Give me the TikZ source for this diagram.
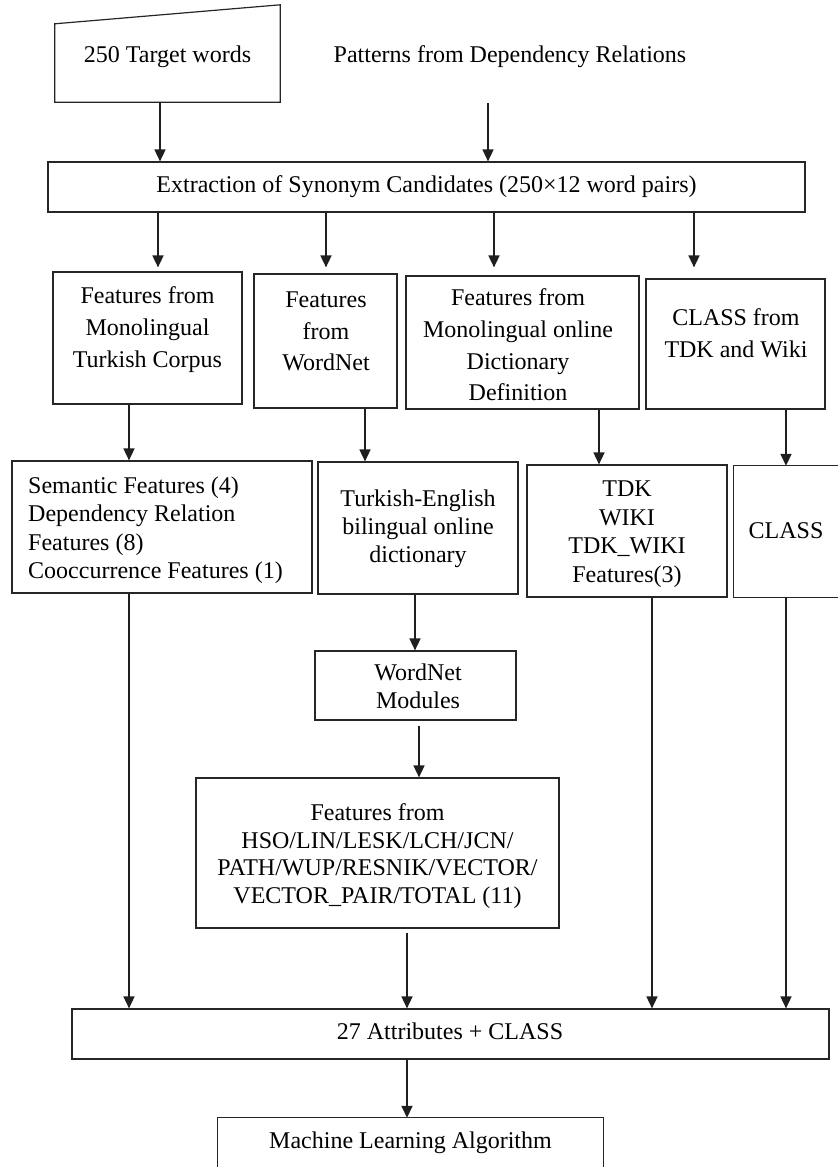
\documentclass[tikz,border=0pt]{standalone}
\usepackage{fontspec}
\setmainfont{Liberation Serif}
\usetikzlibrary{arrows.meta}
\begin{document}
\begin{tikzpicture}[x=1pt,y=-1pt,
  boxline/.style={draw=black!85, line width=1.2pt},
  box/.style={boxline, inner sep=0pt, align=center, font=\fontsize{24}{28}\selectfont},
  plain/.style={inner sep=0pt, align=center, font=\fontsize{24}{28}\selectfont},
  txt/.style={inner sep=0pt, align=center, font=\fontsize{24}{#1}\selectfont},
  arr/.style={draw=black!88, line width=1.6pt, -{Triangle[width=11pt,length=12pt]}}]
\useasboundingbox (0,0) rectangle (838,1167);

% x positions of connectors
\coordinate (c160) at (160,0);
\coordinate (c158) at (158,0);
\coordinate (c326) at (326,0);
\coordinate (c494) at (494,0);
\coordinate (c694) at (694,0);
\coordinate (c129) at (129,0);
\coordinate (c365) at (365,0);
\coordinate (c599) at (599,0);
\coordinate (c786) at (786,0);
\coordinate (c415) at (415,0);
\coordinate (c419) at (419,0);
\coordinate (c407) at (407,0);
\coordinate (c652) at (652,0);

% top row
\node[plain, minimum width=225pt, minimum height=97pt] (tw) at (167.5,53.5) {};
\draw[boxline] (tw.south west) -- (tw.south east) -- (tw.north east) -- ([yshift=-19pt]tw.north west) -- cycle;
\node[plain] (twt) at (167.5,57) {250 Target words};
\node[plain] (pat) at (510,57) {Patterns from Dependency Relations};
\coordinate (patb) at (488,103);

\node[box, minimum width=757pt, minimum height=50pt] (ext) at (426.5,187) {Extraction of Synonym Candidates (250×12 word pairs)};

% second row
\node[box, minimum width=189pt, minimum height=132pt] (A) at (147.5,338) {};
\node[txt=31.7] (At) at (147.5,329.5) {Features from\\Monolingual\\Turkish Corpus};
\node[box, minimum width=143pt, minimum height=134pt] (B) at (325.5,341) {};
\node[txt=31.7] (Bt) at (326,331.5) {Features\\from\\WordNet};
\node[box, minimum width=233pt, minimum height=133pt] (C) at (522.5,342.5) {};
\node[txt=31.7] (Ct) at (518,345) {Features from\\Monolingual online\\Dictionary\\Definition};
\node[box, minimum width=179pt, minimum height=130pt] (D) at (735.5,344) {};
\node[txt=32] (Dt) at (736,333.5) {CLASS from\\TDK and Wiki};

% third row
\node[box, minimum width=300pt, minimum height=132pt] (E) at (162,527) {};
\node[txt=28.5, align=left, anchor=west] (Et) at (28,530) {Semantic Features (4)\\Dependency Relation\\Features (8)\\Cooccurrence Features (1)};
\node[box, minimum width=200pt, minimum height=132pt] (F) at (418,528) {};
\node[txt=28] (Ft) at (418,529) {Turkish-English\\bilingual online\\dictionary};
\node[box, minimum width=200pt, minimum height=132pt] (G) at (627,531) {};
\node[txt=28.5] (Gt) at (627,534) {TDK\\WIKI\\TDK\_WIKI\\Features(3)};
\node[plain, minimum width=104pt, minimum height=131pt] (H) at (786,531.5) {};
\draw[boxline] (H.north east) -- (H.north west) -- (H.south west) -- (H.south east);
\node[plain] (Ht) at (786,531) {CLASS};

% middle column
\node[box, minimum width=201pt, minimum height=69pt] (WM) at (415.5,685.5) {};
\node[txt=27.7] (WMt) at (418,686) {WordNet\\Modules};
\node[box, minimum width=363pt, minimum height=150pt] (HSO) at (377.5,853) {};
\node[txt=27.6] (HSOt) at (377.5,856) {Features from\\HSO/LIN/LESK/LCH/JCN/\\PATH/WUP/RESNIK/VECTOR/\\VECTOR\_PAIR/TOTAL (11)};

% bottom
\node[box, minimum width=757pt, minimum height=50pt] (att) at (450.5,1034) {};
\node[plain] (attt) at (450,1031) {27 Attributes + CLASS};
\node[plain, minimum width=385pt, minimum height=49pt] (ml) at (410.5,1142.5) {Machine Learning Algorithm};
\draw[boxline] (ml.south west) -- (ml.north west) -- (ml.north east) -- (ml.south east);

% connectors
\draw[arr] (tw.south -| c160) -- (ext.north -| c160);
\draw[arr] (patb) -- (ext.north -| patb);
\draw[arr, shorten >=4pt] (ext.south -| c158) -- (A.north -| c158);
\draw[arr, shorten >=6pt] (ext.south -| c326) -- (B.north -| c326);
\draw[arr, shorten >=8pt] (ext.south -| c494) -- (C.north -| c494);
\draw[arr, shorten >=11pt] (ext.south -| c694) -- (D.north -| c694);
\draw[arr] (A.south -| c129) -- (E.north -| c129);
\draw[arr] (B.south -| c365) -- (F.north -| c365);
\draw[arr] (C.south -| c599) -- (G.north -| c599);
\draw[arr] (D.south -| c786) -- (H.north -| c786);
\draw[arr] (E.south -| c129) -- (att.north -| c129);
\draw[arr] (F.south -| c415) -- (WM.north -| c415);
\draw[arr, shorten <=5pt] (WM.south -| c419) -- (HSO.north -| c419);
\draw[arr, shorten <=4pt] (HSO.south -| c407) -- (att.north -| c407);
\draw[arr] (G.south -| c652) -- (att.north -| c652);
\draw[arr] (H.south -| c786) -- (att.north -| c786);
\draw[arr] (att.south -| c407) -- (ml.north -| c407);
\end{tikzpicture}
\end{document}
